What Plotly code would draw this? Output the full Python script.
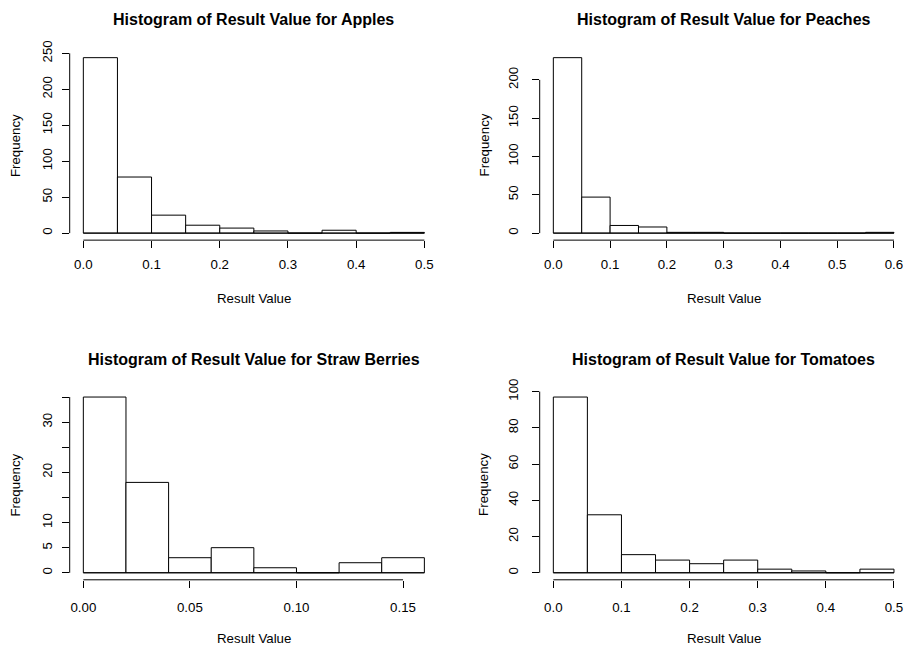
import plotly.graph_objects as go

W, H = 904, 646
FONT = "Liberation Sans, Arial, Helvetica, sans-serif"
BASE = 13.3
TITLE = 16

# ---------------- data ----------------
titles = [
    "Histogram of Result Value for Apples",
    "Histogram of Result Value for Peaches",
    "Histogram of Result Value for Straw Berries",
    "Histogram of Result Value for Tomatoes",
]

apples_breaks = [0.00, 0.05, 0.10, 0.15, 0.20, 0.25, 0.30, 0.35, 0.40, 0.45, 0.50]
apples_counts = [244, 78, 25, 11, 7, 3, 0, 4, 0, 1]

peaches_breaks = [0.00, 0.05, 0.10, 0.15, 0.20, 0.25, 0.30, 0.35, 0.40, 0.45, 0.50, 0.55, 0.60]
peaches_counts = [229, 47, 10, 8, 1, 1, 0, 0, 0, 0, 0, 1]

straw_breaks = [0.00, 0.02, 0.04, 0.06, 0.08, 0.10, 0.12, 0.14, 0.16]
straw_counts = [35, 18, 3, 5, 1, 0, 2, 3]

tomato_breaks = [0.00, 0.05, 0.10, 0.15, 0.20, 0.25, 0.30, 0.35, 0.40, 0.45, 0.50]
tomato_counts = [97, 32, 10, 7, 5, 7, 2, 1, 0, 2]

apples_xticks = [0.0, 0.1, 0.2, 0.3, 0.4, 0.5]
apples_xlabels = ["0.0", "0.1", "0.2", "0.3", "0.4", "0.5"]
apples_yticks = [0, 50, 100, 150, 200, 250]
apples_ylabels = ["0", "50", "100", "150", "200", "250"]

peaches_xticks = [0.0, 0.1, 0.2, 0.3, 0.4, 0.5, 0.6]
peaches_xlabels = ["0.0", "0.1", "0.2", "0.3", "0.4", "0.5", "0.6"]
peaches_yticks = [0, 50, 100, 150, 200]
peaches_ylabels = ["0", "50", "100", "150", "200"]

straw_xticks = [0.00, 0.05, 0.10, 0.15]
straw_xlabels = ["0.00", "0.05", "0.10", "0.15"]
straw_yticks = [0, 5, 10, 15, 20, 25, 30, 35]
straw_ylabels = ["0", "5", "10", "", "20", "", "30", ""]

tomato_xticks = [0.0, 0.1, 0.2, 0.3, 0.4, 0.5]
tomato_xlabels = ["0.0", "0.1", "0.2", "0.3", "0.4", "0.5"]
tomato_yticks = [0, 20, 40, 60, 80, 100]
tomato_ylabels = ["0", "20", "40", "60", "80", "100"]

x_title = "Result Value"
y_title = "Frequency"

panels = [
    (apples_breaks, apples_counts, apples_xticks, apples_xlabels, apples_yticks, apples_ylabels),
    (peaches_breaks, peaches_counts, peaches_xticks, peaches_xlabels, peaches_yticks, peaches_ylabels),
    (straw_breaks, straw_counts, straw_xticks, straw_xlabels, straw_yticks, straw_ylabels),
    (tomato_breaks, tomato_counts, tomato_xticks, tomato_xlabels, tomato_yticks, tomato_ylabels),
]

# ---------------- layout (pixel plot regions, as seen on screen) ----------------
col_px = [(69.7, 438.0), (539.7, 907.6)]
row_px = [(49.7, 239.5), (389.6, 579.7)]
title_y_px = [19.0, 359.5]
ylab_standoff = [4, 8]          # per column
ylab_title_gap = [54.0, 55.7]   # per column
xlab_standoff = [5, 8]          # per row

# the rendered paper occupies screen rows PAPER_TOP .. PAPER_TOP + PAPER_H
PAPER_TOP, PAPER_H = 10.0, 636.0


def fy(py):
    """screen pixel row -> paper fraction"""
    return 1 - (py - PAPER_TOP) / PAPER_H


fig = go.Figure()
layout = dict(
    width=W, height=H,
    margin=dict(l=0, r=0, t=0, b=0),
    paper_bgcolor="white", plot_bgcolor="white",
    showlegend=False,
    font=dict(family=FONT, size=BASE, color="black"),
)
annotations = []
shapes = []

for i, (breaks, counts, xt, xl, yt, yl) in enumerate(panels):
    r, c = divmod(i, 2)
    n = "" if i == 0 else str(i + 1)
    xa, ya = "x" + n, "y" + n
    left, right = col_px[c]
    top, bottom = row_px[r]
    mid_px = (left + right) / 2

    lo, hi = breaks[0], breaks[-1]
    span = hi - lo
    xr0, xr1 = lo - 0.04 * span, hi + 0.04 * span
    if right > W:
        xr1 = xr0 + (xr1 - xr0) * (W - left) / (right - left)
        right = W
    ymax = max(counts)
    yr0, yr1 = -0.04 * ymax, 1.04 * ymax

    centers = [(a + b) / 2 for a, b in zip(breaks[:-1], breaks[1:])]
    widths = [b - a for a, b in zip(breaks[:-1], breaks[1:])]

    fig.add_trace(go.Bar(
        x=centers, y=counts, width=widths,
        marker=dict(color="white", line=dict(color="black", width=1)),
        xaxis=xa, yaxis=ya, hoverinfo="x+y",
    ))

    axis_common = dict(
        showgrid=False, zeroline=False, showline=False,
        ticks="outside", ticklen=7, tickwidth=1, tickcolor="black",
        tickfont=dict(family=FONT, size=BASE, color="black"),
        fixedrange=True,
    )
    layout["xaxis" + n] = dict(
        axis_common,
        domain=[left / W, right / W], range=[xr0, xr1],
        anchor=ya, tickmode="array", tickvals=xt, ticktext=xl,
        ticklabelstandoff=xlab_standoff[r],
    )
    layout["yaxis" + n] = dict(
        axis_common,
        domain=[fy(bottom), fy(top)], range=[yr0, yr1],
        anchor=xa, tickmode="array", tickvals=yt, ticktext=yl,
        tickangle=-90, ticklabelstandoff=ylab_standoff[c],
    )

    # R-style axis lines spanning first to last tick
    shapes.append(dict(type="line", xref=xa, yref=ya + " domain",
                       x0=xt[0], x1=xt[-1], y0=0, y1=0,
                       line=dict(color="black", width=1)))
    shapes.append(dict(type="line", xref=xa + " domain", yref=ya,
                       x0=0, x1=0, y0=yt[0], y1=yt[-1],
                       line=dict(color="black", width=1)))
    # baseline under bars (R draws zero-height rectangles)
    shapes.append(dict(type="line", xref=xa, yref=ya,
                       x0=breaks[0], x1=breaks[-1], y0=0, y1=0,
                       line=dict(color="black", width=1)))

    annotations.append(dict(
        text="<b>" + titles[i] + "</b>", showarrow=False,
        xref="paper", x=mid_px / W,
        yref="paper", y=fy(title_y_px[r]), yanchor="middle", xanchor="center",
        font=dict(family=FONT, size=TITLE, color="black"),
    ))
    annotations.append(dict(
        text=x_title, showarrow=False,
        xref="paper", x=mid_px / W,
        yref="paper", y=fy(bottom + 58.5), yanchor="middle", xanchor="center",
        font=dict(family=FONT, size=BASE, color="black"),
    ))
    annotations.append(dict(
        text=y_title, showarrow=False, textangle=-90,
        xref="paper", x=(left - ylab_title_gap[c]) / W, xanchor="center",
        yref="paper", y=fy((top + bottom) / 2), yanchor="middle",
        font=dict(family=FONT, size=BASE, color="black"),
    ))

layout["annotations"] = annotations
layout["shapes"] = shapes
fig.update_layout(**layout)
fig.write_html("out.html")
